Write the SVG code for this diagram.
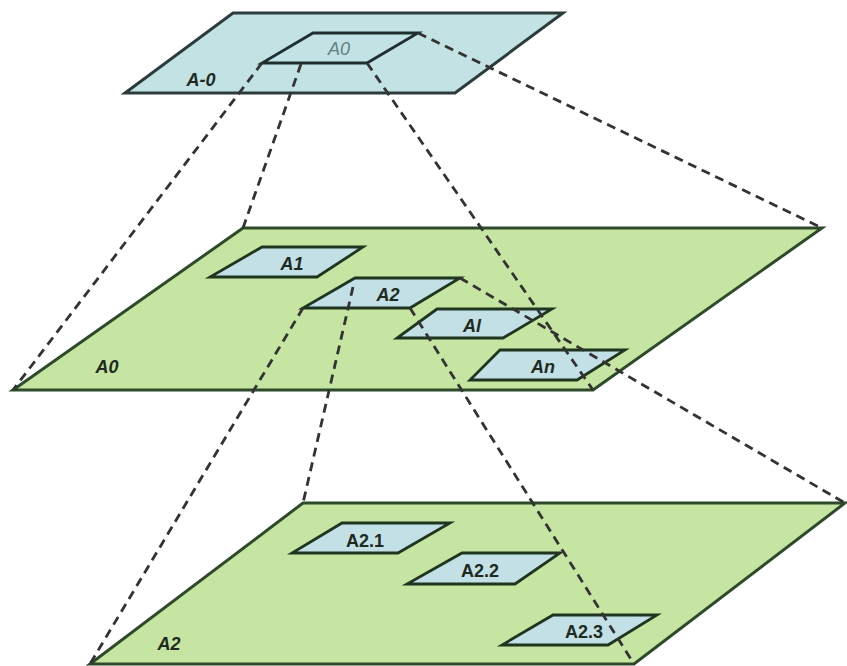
<svg xmlns="http://www.w3.org/2000/svg" width="847" height="666" viewBox="0 0 847 666">
<style>
.bg{fill:#ffffff}
.planeT{fill:#c3e2e3;stroke:#2c3c3c;stroke-width:3;stroke-linejoin:miter}
.planeG{fill:#c6e5a2;stroke:#2e4a2a;stroke-width:3;stroke-linejoin:miter}
.box{fill:#c3e0e6;stroke:#1f351f;stroke-width:2.8;stroke-linejoin:miter}
.boxT{fill:#c3e2e3;stroke:#1f2f2f;stroke-width:2.8}
.dash{fill:none;stroke:#333333;stroke-width:2.8;stroke-dasharray:9 6}
.lbl{font-family:"Liberation Sans",Arial,sans-serif;font-weight:bold;font-size:18px;fill:#1e2a1e;text-anchor:middle}
.it{font-style:italic}
.faint{font-weight:normal;fill:#5f8286}
</style>
<rect class="bg" x="0" y="0" width="847" height="666"/>

<g id="plane-top">
  <polygon class="planeT" points="233,13 563,13 455,93 125,93"/>
  <text class="lbl it" x="201" y="86">A-0</text>
</g>
<g id="box-top-A0">
  <polygon class="boxT" points="313,33 418,33 367,63 262,63"/>
  <text class="lbl it faint" x="339" y="55">A0</text>
</g>

<g id="plane-A0">
  <polygon class="planeG" points="243,228 822,228 593,390 13,390"/>
  <text class="lbl it" x="107" y="373">A0</text>
</g>

<g id="plane-A2">
  <polygon class="planeG" points="303,503 845,503 634,664 90,664"/>
  <text class="lbl it" x="169" y="650">A2</text>
</g>

<g id="box-A1">
  <polygon class="box" points="262,247 363,247 317,277 210,277"/>
  <text class="lbl it" x="292" y="270">A1</text>
</g>
<g id="box-A2">
  <polygon class="box" points="355,278 460,278 410,308 303,308"/>
  <text class="lbl it" x="388" y="301">A2</text>
</g>
<g id="box-Al">
  <polygon class="box" points="437,309 552,309 503,338 397,338"/>
  <text class="lbl it" x="472" y="332">Al</text>
</g>
<g id="box-An">
  <polygon class="box" points="500,350 625,350 577,380 470,380"/>
  <text class="lbl it" x="543" y="373">An</text>
</g>

<g id="box-A2.1">
  <polygon class="box" points="342,523 450,523 398,553 292,553"/>
  <text class="lbl" x="365" y="547">A2.1</text>
</g>
<g id="box-A2.2">
  <polygon class="box" points="462,553 560,553 515,584 407,584"/>
  <text class="lbl" x="480" y="577">A2.2</text>
</g>
<g id="box-A2.3">
  <polygon class="box" points="553,615 657,615 608,645 502,645"/>
  <text class="lbl" x="584" y="638">A2.3</text>
</g>

<g id="connectors">
  <line class="dash" x1="418" y1="33" x2="822" y2="228"/>
  <line class="dash" x1="262" y1="63" x2="13" y2="390"/>
  <line class="dash" x1="301" y1="64" x2="243" y2="228"/>
  <line class="dash" x1="367" y1="63" x2="593" y2="390"/>
  <line class="dash" x1="460" y1="278" x2="845" y2="503"/>
  <line class="dash" x1="303" y1="308" x2="90" y2="664"/>
  <line class="dash" x1="353" y1="287" x2="303" y2="503"/>
  <line class="dash" x1="410" y1="308" x2="634" y2="664"/>
</g>
</svg>
